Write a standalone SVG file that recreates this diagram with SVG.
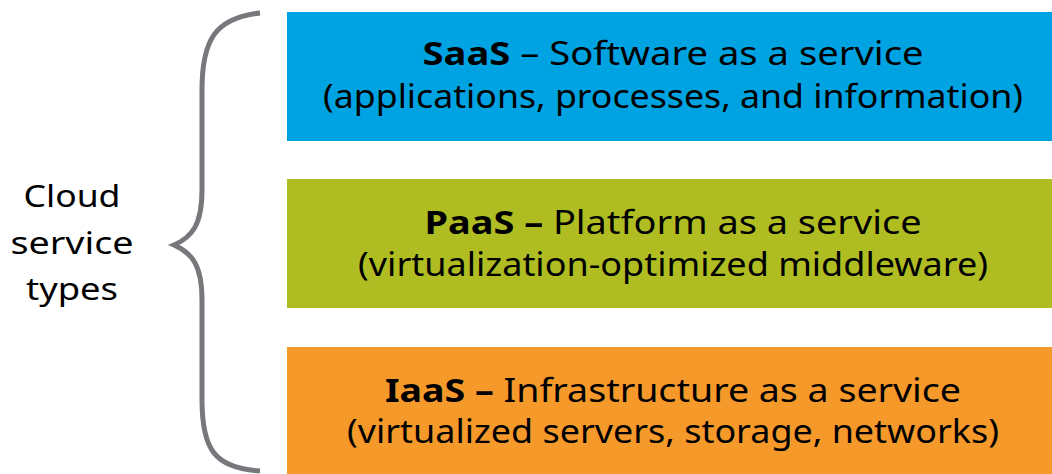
<svg xmlns="http://www.w3.org/2000/svg" width="1052" height="474" viewBox="0 0 1052 474">
<style>
text{font-family:"Noto Sans","Liberation Sans",Arial,sans-serif;fill:#000;text-anchor:middle}
.t{font-size:33px}
.b{font-weight:bold}
.c{font-size:31px}
.brace{fill:none;stroke:#77787b;stroke-width:5;stroke-linecap:butt}
</style>
<rect width="1052" height="474" fill="#fff"/>
<g id="label">
<text class="c" x="72" y="207" textLength="97" lengthAdjust="spacingAndGlyphs">Cloud</text>
<text class="c" x="72" y="254" textLength="123" lengthAdjust="spacingAndGlyphs">service</text>
<text class="c" x="72" y="300" textLength="92" lengthAdjust="spacingAndGlyphs">types</text>
</g>
<g id="connectors">
<path class="brace" d="M260,13 C215,18 202,40 202,90 L202,190 C202,225 192,237 174,245 C192,253 202,265 202,300 L202,400 C202,450 215,468 260,471"/>
</g>
<g id="saas">
<rect x="287" y="12" width="765" height="129" fill="#00a3e2"/>
<text class="t" x="673" y="65" textLength="501" lengthAdjust="spacingAndGlyphs"><tspan class="b">SaaS</tspan> – Software as a service</text>
<text class="t" x="673" y="108" textLength="700" lengthAdjust="spacingAndGlyphs">(applications, processes, and information)</text>
</g>
<g id="paas">
<rect x="287" y="179" width="765" height="129" fill="#afbd22"/>
<text class="t" x="673" y="234" textLength="497" lengthAdjust="spacingAndGlyphs"><tspan class="b">PaaS –</tspan> Platform as a service</text>
<text class="t" x="673" y="276" textLength="630" lengthAdjust="spacingAndGlyphs">(virtualization-optimized middleware)</text>
</g>
<g id="iaas">
<rect x="287" y="347" width="765" height="127" fill="#f6992b"/>
<text class="t" x="673" y="402" textLength="576" lengthAdjust="spacingAndGlyphs"><tspan class="b">IaaS –</tspan> Infrastructure as a service</text>
<text class="t" x="673" y="443" textLength="652" lengthAdjust="spacingAndGlyphs">(virtualized servers, storage, networks)</text>
</g>
</svg>
